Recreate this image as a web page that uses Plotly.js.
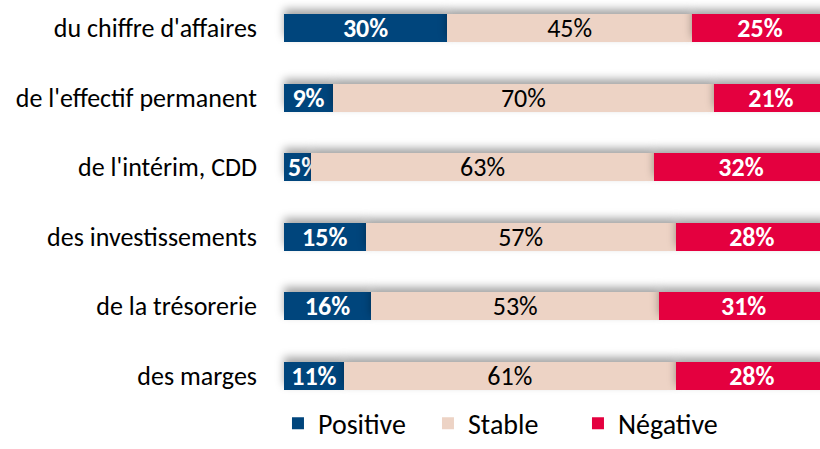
<!DOCTYPE html>
<html>
<head>
<meta charset="utf-8">
<script src="https://cdn.plot.ly/plotly-3.0.1.min.js"></script>
<style>
html,body{margin:0;padding:0;background:#fff;overflow:hidden;}
#chart{width:820px;height:449px;}
.barlayer .point path{filter:drop-shadow(0px -5px 4px rgba(0,0,0,0.35));}
</style>
</head>
<body>
<div id="chart"></div>
<script>
const categories = ["du chiffre d'affaires", "de l'effectif permanent", "de l'intérim, CDD", "des investissements", "de la trésorerie", "des marges"];
const positive = [30, 9, 5, 15, 16, 11];
const stable = [45, 70, 63, 57, 53, 61];
const negative = [25, 21, 32, 28, 31, 28];
const seriesNames = ["Positive", "Stable", "Négative"];
const colors = ["#00457C", "#EDD3C5", "#E4003F"];
const font = "Calibri, Carlito, Lato, 'Open Sans', sans-serif";

// very narrow segments: label pushed right so it starts inside the bar
function label(v) { return (v < 7 ? '\u2002' : '') + v + '%'; }

function mk(vals, i, txtColor, weight) {
  return {
    type: 'bar', orientation: 'h', name: seriesNames[i],
    y: categories, x: vals,
    marker: {color: colors[i], line: {width: 0}},
    text: vals.map(label),
    textposition: 'inside', insidetextanchor: 'middle', textangle: 0,
    textfont: {family: font, size: 26, color: txtColor, weight: weight},
    constraintext: 'none',
    hoverinfo: 'skip'
  };
}
const data = [
  mk(positive, 0, '#ffffff', 700),
  mk(stable, 1, '#000000', 400),
  mk(negative, 2, '#ffffff', 700)
];
const layout = {
  width: 820, height: 449,
  margin: {l: 270, r: 0, t: 0, b: 0},
  barmode: 'stack', bargap: 0.6,
  paper_bgcolor: '#fff', plot_bgcolor: '#fff',
  font: {family: font, size: 26, color: '#000'},
  uniformtext: {mode: 'show', minsize: 26},
  xaxis: {range: [-2.574, 98.53], visible: false, fixedrange: true},
  yaxis: {type: 'category', range: [6.049, -0.402], showline: false, showgrid: false,
          zeroline: false, ticks: '', ticklabelstandoff: 12,
          tickfont: {family: font, size: 26, color: '#000'}},
  showlegend: true,
  legend: {orientation: 'h', xref: 'paper', x: 0.0145, xanchor: 'left',
           yref: 'paper', y: 0.001, yanchor: 'bottom',
           font: {family: font, size: 28, color: '#000'}, itemwidth: 30, traceorder: 'normal',
           entrywidth: 105, entrywidthmode: 'pixels', bgcolor: 'rgba(0,0,0,0)',
           itemclick: false, itemdoubleclick: false, tracegroupgap: 0}
};
Plotly.newPlot('chart', data, layout, {displayModeBar: false, staticPlot: true});
</script>
</body>
</html>
